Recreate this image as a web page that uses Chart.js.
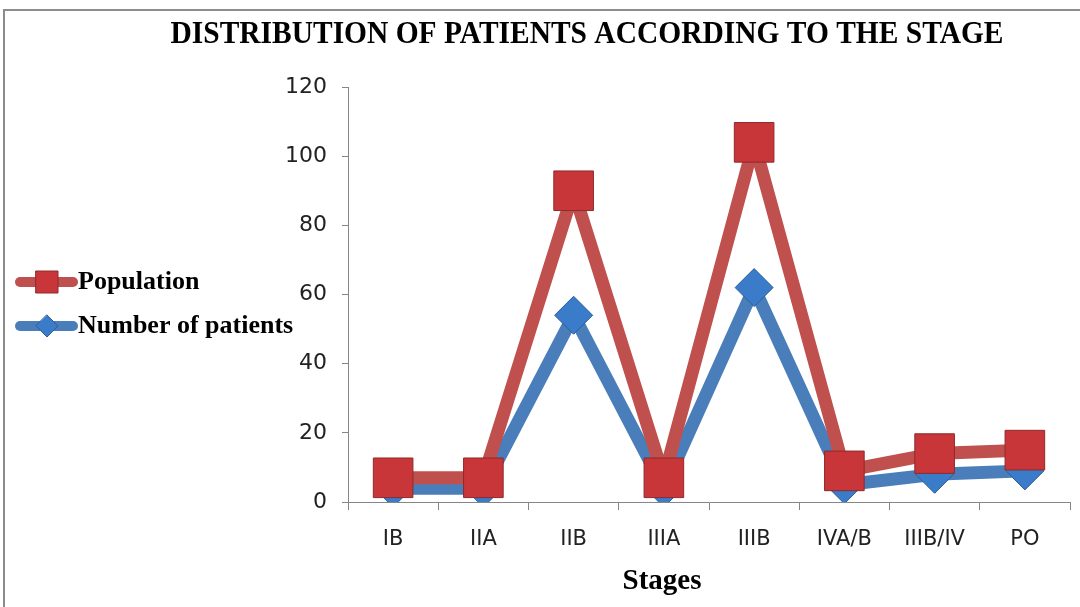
<!DOCTYPE html>
<html>
<head>
<meta charset="utf-8">
<script src="https://cdn.jsdelivr.net/npm/chart.js@4/dist/chart.umd.min.js"></script>
<style>
  html, body { margin: 0; padding: 0; background: #fff; overflow: hidden; }
  #wrap { position: relative; width: 1080px; height: 607px; overflow: hidden; }
  #frame { position: absolute; left: 3px; top: 9px; right: 0; bottom: 0;
           border-left: 2px solid #8c8c8c; border-top: 2px solid #8c8c8c; }
  canvas { position: absolute; left: 0; top: 0; }
</style>
</head>
<body>
<div id="wrap">
  <div id="frame"></div>
  <!-- a bit wider than the page: the big markers force ~29px right padding -->
  <canvas id="stage-chart" width="1099" height="607"></canvas>
</div>
<script>
const chartTitle = 'DISTRIBUTION OF PATIENTS ACCORDING TO THE STAGE';
const xTitle = 'Stages';
const stages = ['IB', 'IIA', 'IIB', 'IIIA', 'IIIB', 'IVA/B', 'IIIB/IV', 'PO'];
const population = [7, 7, 90, 7, 104, 9, 14, 15];
const patients = [4, 4, 54, 4, 62, 5, 8, 9];
const yTicks = [0, 20, 40, 60, 80, 100, 120];

const RED = '#C0504D';
const BLUE = '#4A7EBB';

// title, axis title and legend drawn by hand (legend has line+marker combo)
const decorPlugin = {
  id: 'decor',
  afterDraw(chart) {
    const ctx = chart.ctx;
    ctx.save();
    // title, condensed like the original
    ctx.font = 'bold 31px "Liberation Serif", "Times New Roman", serif';
    ctx.fillStyle = '#000';
    ctx.textBaseline = 'middle';
    ctx.textAlign = 'center';
    const w = ctx.measureText(chartTitle).width;
    ctx.translate(587, 35);
    ctx.scale(833 / w, 1);
    ctx.fillText(chartTitle, 0, 0);
    ctx.restore();

    ctx.save();
    ctx.font = 'bold 29px "Liberation Serif", "Times New Roman", serif';
    ctx.fillStyle = '#000';
    ctx.textAlign = 'center';
    ctx.textBaseline = 'middle';
    ctx.fillText(xTitle, 662, 582);
    ctx.restore();

    // legend
    const items = [
      { label: 'Population', color: RED, y: 282, shape: 'square' },
      { label: 'Number of patients', color: BLUE, y: 326, shape: 'diamond' }
    ];
    ctx.save();
    items.forEach(it => {
      ctx.strokeStyle = it.color;
      ctx.lineWidth = 10;
      ctx.lineCap = 'round';
      ctx.beginPath();
      ctx.moveTo(20, it.y);
      ctx.lineTo(73, it.y);
      ctx.stroke();
      ctx.beginPath();
      if (it.shape === 'square') {
        ctx.fillStyle = '#C8363A';
        ctx.strokeStyle = '#8E2A2A';
        ctx.lineWidth = 1;
        ctx.rect(36, it.y - 11, 22, 22);
      } else {
        ctx.fillStyle = '#3A7CC9';
        ctx.strokeStyle = '#2C5E98';
        ctx.lineWidth = 1;
        ctx.moveTo(47, it.y - 11);
        ctx.lineTo(58, it.y);
        ctx.lineTo(47, it.y + 11);
        ctx.lineTo(36, it.y);
        ctx.closePath();
      }
      ctx.fill();
      ctx.stroke();
      ctx.font = 'bold 26px "Liberation Serif", "Times New Roman", serif';
      ctx.fillStyle = '#000';
      ctx.textAlign = 'left';
      ctx.textBaseline = 'middle';
      ctx.fillText(it.label, 78, it.y);
    });
    ctx.restore();
  }
};

const stageChart = new Chart(document.getElementById('stage-chart').getContext('2d'), {
  type: 'line',
  data: {
    labels: stages,
    datasets: [
      {
        label: 'Population',
        data: population,
        borderColor: RED,
        borderWidth: 13,
        borderJoinStyle: 'round',
        pointStyle: 'rect',
        pointRadius: 28,
        pointBackgroundColor: '#C8363A',
        pointBorderColor: '#8E2A2A',
        pointBorderWidth: 1,
        tension: 0
      },
      {
        label: 'Number of patients',
        data: patients,
        borderColor: BLUE,
        borderWidth: 13,
        borderJoinStyle: 'round',
        pointStyle: 'rectRot',
        pointRadius: 19,
        pointBackgroundColor: '#3A7CC9',
        pointBorderColor: '#2C5E98',
        pointBorderWidth: 1,
        tension: 0
      }
    ]
  },
  options: {
    responsive: false,
    animation: false,
    layout: { padding: { top: 87, right: 0, left: 0, bottom: 0 } },
    plugins: {
      legend: { display: false },
      title: { display: false },
      tooltip: { enabled: false }
    },
    scales: {
      x: {
        offset: true,
        grid: { offset: true, drawOnChartArea: false, drawTicks: true, tickLength: 8, color: '#868686' },
        border: { color: '#868686', width: 1 },
        ticks: { color: '#222', padding: 17, font: { family: '"DejaVu Sans", sans-serif', size: 21 } },
        afterFit(scale) {
          scale.height = 105;
          scale.paddingLeft = 0;
          scale.paddingRight = 0;
        }
      },
      y: {
        min: 0,
        max: 120,
        afterBuildTicks(scale) { scale.ticks = yTicks.map(v => ({ value: v })); },
        grid: { drawOnChartArea: false, drawTicks: true, tickLength: 6, color: '#868686' },
        border: { color: '#868686', width: 1 },
        ticks: { color: '#222', padding: 15, font: { family: '"DejaVu Sans", sans-serif', size: 22 } },
        afterFit(scale) { scale.width = 348; }
      }
    }
  },
  plugins: [decorPlugin]
});
</script>
</body>
</html>
